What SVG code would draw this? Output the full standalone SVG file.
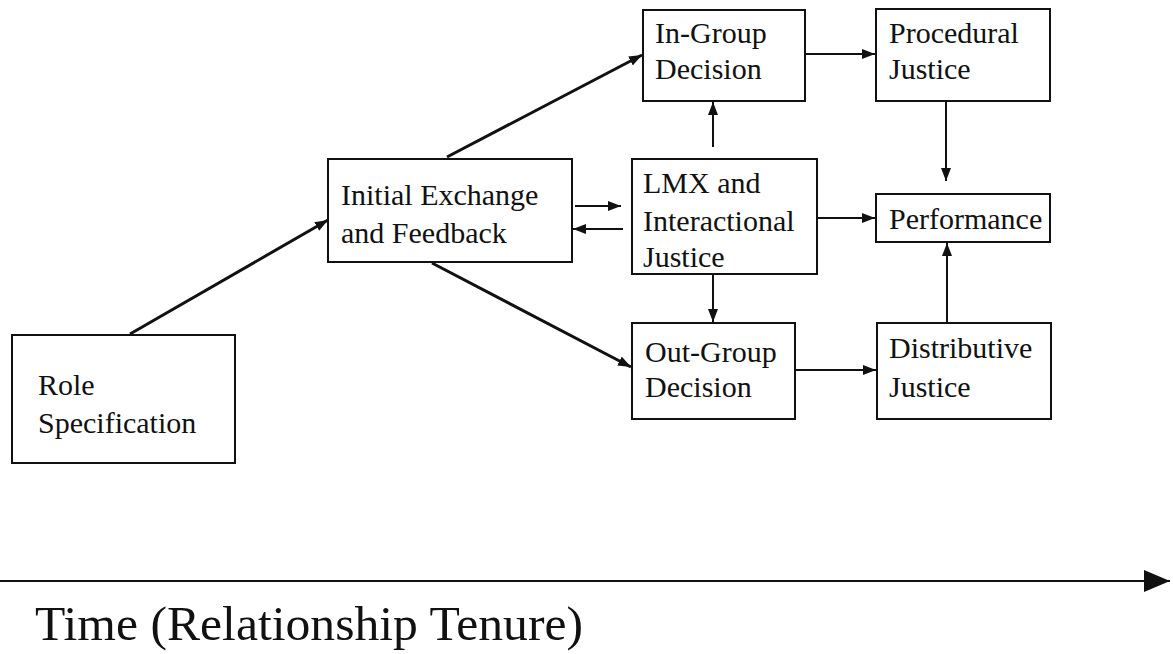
<svg xmlns="http://www.w3.org/2000/svg" width="1173" height="654" viewBox="0 0 1173 654">
<style>
.box{fill:#fff;stroke:#111;stroke-width:2}
.t{font-family:"Liberation Serif","Times New Roman",serif;font-size:30px;fill:#111}
.c{stroke:#111;stroke-width:2;fill:none}
.d{stroke:#111;stroke-width:3;fill:none}
.big{font-family:"Liberation Serif","Times New Roman",serif;font-size:48px;fill:#111}
</style>
<defs>
<marker id="ah" markerUnits="userSpaceOnUse" markerWidth="13" markerHeight="10" refX="13" refY="5" orient="auto">
<path d="M0,0 L13,5 L0,10 z" fill="#111"/>
</marker>
<marker id="ahb" markerUnits="userSpaceOnUse" markerWidth="26" markerHeight="22" refX="26" refY="11" orient="auto">
<path d="M0,0 L26,11 L0,22 z" fill="#111"/>
</marker>
</defs>
<rect width="1173" height="654" fill="#fff"/>
<g id="connectors">
<line class="d" x1="130" y1="334" x2="328" y2="220" marker-end="url(#ah)"/>
<line class="d" x1="447" y1="157" x2="642" y2="55" marker-end="url(#ah)"/>
<line class="d" x1="432" y1="263" x2="631" y2="367" marker-end="url(#ah)"/>
<line class="c" x1="575" y1="206" x2="621" y2="206" marker-end="url(#ah)"/>
<line class="c" x1="623" y1="229" x2="573" y2="229" marker-end="url(#ah)"/>
<line class="c" x1="713" y1="147" x2="713" y2="102" marker-end="url(#ah)"/>
<line class="c" x1="713" y1="275" x2="713" y2="322" marker-end="url(#ah)"/>
<line class="c" x1="805" y1="54" x2="875" y2="54" marker-end="url(#ah)"/>
<line class="c" x1="946" y1="102" x2="946" y2="181" marker-end="url(#ah)"/>
<line class="c" x1="818" y1="218" x2="875" y2="218" marker-end="url(#ah)"/>
<line class="c" x1="947" y1="322" x2="947" y2="243" marker-end="url(#ah)"/>
<line class="c" x1="796" y1="370" x2="876" y2="370" marker-end="url(#ah)"/>
<line class="c" x1="0" y1="581" x2="1170" y2="581" marker-end="url(#ahb)"/>
</g>
<g id="role">
<rect class="box" x="12" y="335" width="223" height="128"/>
<text class="t" x="38" y="395">Role</text>
<text class="t" x="38" y="433">Specification</text>
</g>
<g id="initial">
<rect class="box" x="328" y="159" width="244" height="103"/>
<text class="t" x="341" y="205">Initial Exchange</text>
<text class="t" x="341" y="243">and Feedback</text>
</g>
<g id="ingroup">
<rect class="box" x="643" y="10" width="162" height="91"/>
<text class="t" x="655" y="43">In-Group</text>
<text class="t" x="655" y="79">Decision</text>
</g>
<g id="lmx">
<rect class="box" x="632" y="159" width="185" height="115"/>
<text class="t" x="643" y="193">LMX and</text>
<text class="t" x="643" y="231">Interactional</text>
<text class="t" x="643" y="267">Justice</text>
</g>
<g id="outgroup">
<rect class="box" x="632" y="323" width="163" height="96"/>
<text class="t" x="645" y="362">Out-Group</text>
<text class="t" x="645" y="397">Decision</text>
</g>
<g id="procedural">
<rect class="box" x="876" y="9" width="174" height="92"/>
<text class="t" x="889" y="43">Procedural</text>
<text class="t" x="889" y="79">Justice</text>
</g>
<g id="performance">
<rect class="box" x="876" y="194" width="174" height="48"/>
<text class="t" x="889" y="229">Performance</text>
</g>
<g id="distributive">
<rect class="box" x="877" y="323" width="174" height="96"/>
<text class="t" x="889" y="358">Distributive</text>
<text class="t" x="889" y="397">Justice</text>
</g>
<g id="axis-label">
<text class="big" x="35" y="640" textLength="548" lengthAdjust="spacingAndGlyphs">Time (Relationship Tenure)</text>
</g>
</svg>
